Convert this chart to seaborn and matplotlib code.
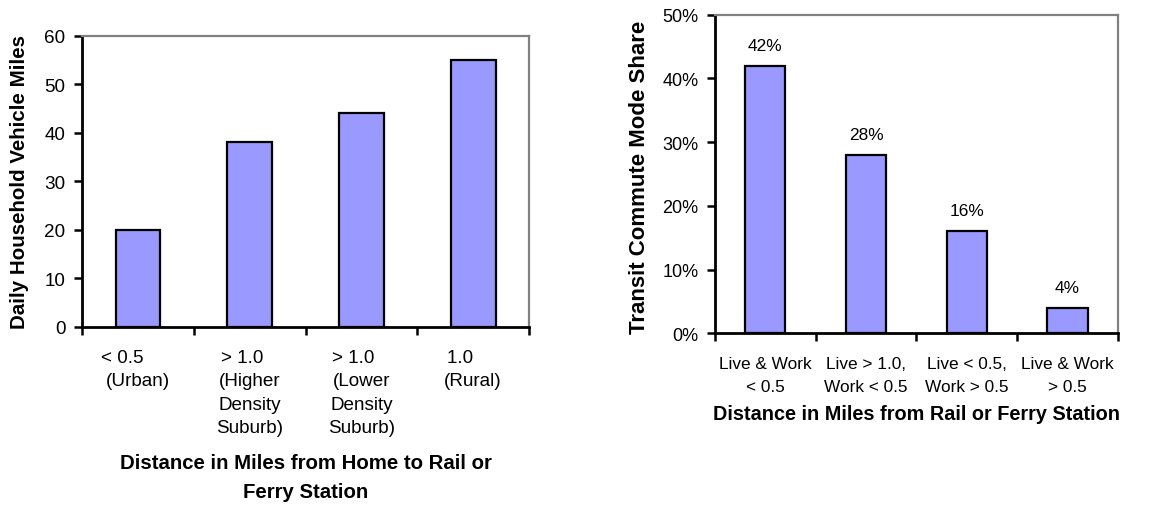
import seaborn as sns
import matplotlib.pyplot as plt
import pandas as pd
from matplotlib.ticker import FixedLocator, PercentFormatter

# left chart: vehicle miles by distance from station
# (the first lines carry trailing spaces, as in the original labels)
home_labels = ["< 0.5      \n(Urban)", "> 1.0   \n(Higher\nDensity\nSuburb)",
               "> 1.0   \n(Lower\nDensity\nSuburb)", "1.0     \n(Rural)"]
vmt = [20, 38, 44, 55]

# right chart: transit mode share
commute_labels = ["Live & Work\n< 0.5", "Live > 1.0,\nWork < 0.5",
                  "Live < 0.5,\nWork > 0.5", "Live & Work\n> 0.5"]
mode_share = [42, 28, 16, 4]

BAR = "#9999FF"

sns.set_style("ticks")
plt.rcParams["font.family"] = ["Liberation Sans", "DejaVu Sans"]
plt.rcParams["text.color"] = "black"
plt.rcParams["axes.labelcolor"] = "black"
plt.rcParams["xtick.color"] = "black"
plt.rcParams["ytick.color"] = "black"

fig = plt.figure(figsize=(11.65, 5.06), dpi=100)
ax1 = fig.add_axes([0.0704, 0.3518, 0.3837, 0.5757])
ax2 = fig.add_axes([0.6137, 0.3393, 0.3459, 0.6296])

df1 = pd.DataFrame({"cat": home_labels, "val": vmt})
df2 = pd.DataFrame({"cat": commute_labels, "val": mode_share})

sns.barplot(data=df1, x="cat", y="val", ax=ax1, color=BAR, saturation=1,
            width=0.4, edgecolor="black", linewidth=1.6)
sns.barplot(data=df2, x="cat", y="val", ax=ax2, color=BAR, saturation=1,
            width=0.4, edgecolor="black", linewidth=1.6)

def style_axes(ax, labels, ymax, step, tick_fs, tick_ls, ytick_fs, pad):
    n = len(labels)
    ax.set_xlim(-0.5, n - 0.5)
    ax.set_ylim(0, ymax)
    ax.set_yticks(range(0, ymax + 1, step))
    # ticks between categories, labels centered on the bars
    ax.xaxis.set_major_locator(FixedLocator([i - 0.5 for i in range(n + 1)]))
    ax.xaxis.set_minor_locator(FixedLocator(list(range(n))))
    ax.set_xticklabels([""] * (n + 1))
    ax.set_xticklabels(labels, minor=True, fontsize=tick_fs)
    ax.tick_params(axis="x", which="major", length=6, width=1.8, direction="out")
    ax.tick_params(axis="x", which="minor", length=0, pad=pad)
    ax.tick_params(axis="y", length=5.5, width=1.8, pad=6.5, labelsize=ytick_fs)
    for t in ax.get_xticklabels(minor=True):
        t.set_linespacing(tick_ls)
    for s in ["left", "bottom"]:
        ax.spines[s].set_color("black")
        ax.spines[s].set_linewidth(2)
    for s in ["top", "right"]:
        ax.spines[s].set_visible(True)
        ax.spines[s].set_color("#808080")
        ax.spines[s].set_linewidth(1.6)
    ax.set_zorder(1)

style_axes(ax1, home_labels, 60, 10, 13.6, 1.5, 13.6, 15.5)
style_axes(ax2, commute_labels, 50, 10, 12.4, 1.67, 13, 16.5)
ax2.yaxis.set_major_formatter(PercentFormatter(decimals=0))

ax1.set_ylabel("Daily Household Vehicle Miles", fontsize=14.8, fontweight="bold")
ax1.yaxis.set_label_coords(-0.119, 0.5)
ax1.set_xlabel("Distance in Miles from Home to Rail or\nFerry Station",
               fontsize=14.7, fontweight="bold", linespacing=1.7)
ax1.xaxis.set_label_coords(0.5, -0.432)

ax2.set_ylabel("Transit Commute Mode Share", fontsize=16, fontweight="bold")
ax2.yaxis.set_label_coords(-0.161, 0.492)
ax2.set_xlabel("Distance in Miles from Rail or Ferry Station",
               fontsize=14.3, fontweight="bold")
ax2.xaxis.set_label_coords(0.5, -0.222)

for i, v in enumerate(mode_share):
    ax2.annotate(f"{v}%", (i, v), xytext=(0, 9.5), textcoords="offset points",
                 ha="center", va="bottom", fontsize=12.4)

fig.savefig("out.png", dpi=100, facecolor="white")
